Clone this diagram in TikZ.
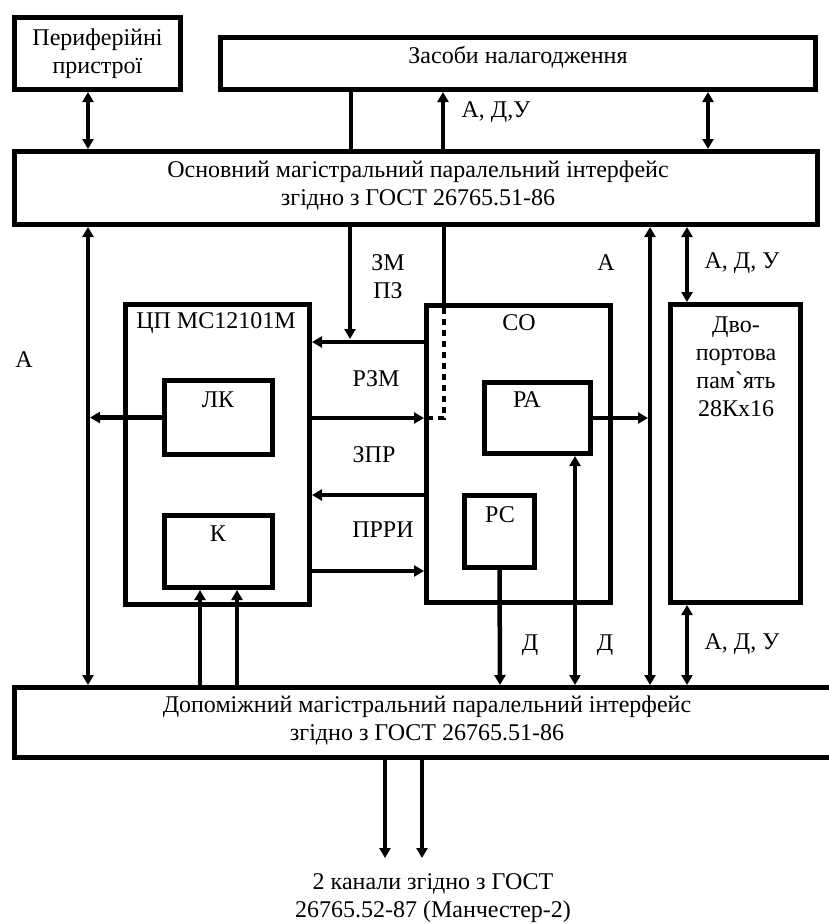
\documentclass[tikz,border=0pt]{standalone}
\usepackage{fontspec}
\setmainfont{Liberation Serif}
\newfontfamily\rawserif{Liberation Serif}[Ligatures=TeXOff]
\usetikzlibrary{arrows.meta}
\tikzset{
  box/.style={draw, line width=5pt, inner sep=0pt, outer sep=2.5pt},
  lbl/.style={inner sep=0pt, align=center, font=\fontsize{24}{28}\selectfont},
  conn/.style={line width=4.5pt},
  arr/.style={conn, -{Triangle[length=10pt,width=11pt]}},
  darr/.style={conn, {Triangle[length=10pt,width=11pt]}-{Triangle[length=10pt,width=11pt]}},
  dotline/.style={line width=4.5pt, dash pattern=on 6pt off 5pt},
}
\begin{document}
\begin{tikzpicture}[x=1pt,y=-1pt]
\useasboundingbox (0,0) rectangle (829,924);
% boxes
\node[box, minimum width=166pt, minimum height=72pt] (periph) at (97.5,53.5) {};
\node[box, minimum width=595pt, minimum height=52pt] (zasoby) at (518,63.5) {};
\node[box, minimum width=803pt, minimum height=73pt] (mainbus) at (416,188) {};
\node[box, minimum width=184pt, minimum height=300pt] (cpu) at (217.5,454.5) {};
\node[box, minimum width=108pt, minimum height=74pt] (lk) at (218.5,417.5) {};
\node[box, minimum width=108pt, minimum height=72pt] (k) at (218.5,551.5) {};
\node[box, minimum width=184pt, minimum height=297pt] (co) at (518.5,454) {};
\node[box, minimum width=106pt, minimum height=71pt] (ra) at (537.5,418) {};
\node[box, minimum width=70pt, minimum height=72pt] (rs) at (499.5,531.5) {};
\node[box, minimum width=130pt, minimum height=298pt] (mem) at (735.5,453.5) {};
\node[box, minimum width=821pt, minimum height=70pt] (auxbus) at (424.5,722.5) {};
% texts
\node[lbl] (tperiph) at (97.5,54) {Периферійні\\пристрої};
\node[lbl] (tzasoby) at (518,57) {Засоби налагодження};
\node[lbl] (tmain) at (418,185) {Основний магістральний паралельний інтерфейс\\згідно з ГОСТ 26765.51-86};
\node[lbl] (tcpu) at (216,323) {ЦП МС12101М};
\node[lbl] (tlk) at (218,400) {ЛК};
\node[lbl] (tk) at (218,534) {К};
\node[lbl] (tco) at (519,323) {СО};
\node[lbl] (tra) at (527,400) {РА};
\node[lbl] (trs) at (500,515) {РС};
\node[lbl] (tmem) at (736,367) {Дво-\\портова\\пам{\rawserif`}ять\\28Кх16};
\node[lbl] (taux) at (427,720) {Допоміжний магістральний паралельний інтерфейс\\згідно з ГОСТ 26765.51-86};
\node[lbl] (tout) at (433,898) {2 канали згідно з ГОСТ\\26765.52-87 (Манчестер-2)};
\node[lbl] (tadu1) at (496,112) {А, Д,У};
\node[lbl] (tzmpz) at (388,277) {ЗМ\\ПЗ};
\node[lbl] (ta1) at (606,263) {А};
\node[lbl] (tadu2) at (742,263) {А, Д, У};
\node[lbl] (ta2) at (24,360) {А};
\node[lbl] (trzm) at (376,379) {РЗМ};
\node[lbl] (tzpr) at (374,455) {ЗПР};
\node[lbl] (tprri) at (383,530) {ПРРИ};
\node[lbl] (td1) at (530,645) {Д};
\node[lbl] (td2) at (605,645) {Д};
\node[lbl] (tadu3) at (742,644) {А, Д, У};
% column / row coordinates
\coordinate (cA) at (88,0);
\coordinate (cZ1) at (351,0);
\coordinate (cZ2) at (443,0);
\coordinate (cZ3) at (708,0);
\coordinate (cZM) at (350,0);
\coordinate (cCO) at (444,0);
\coordinate (cAb) at (650,0);
\coordinate (cMem) at (687,0);
\coordinate (cRS) at (500,0);
\coordinate (cRA) at (575,0);
\coordinate (cK1) at (200,0);
\coordinate (cK2) at (237,0);
\coordinate (cM1) at (385,0);
\coordinate (cM2) at (422,0);
\coordinate (r1) at (0,342);
\coordinate (r2) at (0,418);
\coordinate (r3) at (0,495);
\coordinate (r4) at (0,571);
\coordinate (zmend) at (350,339);
\coordinate (dotTop) at (444,308);
\coordinate (dotA) at (444,418);
\coordinate (dotB) at (428,418);
\coordinate (out1) at (385,858);
\coordinate (out2) at (422,858);
% top connectors
\draw[darr] (cA |- periph.south) -- (cA |- mainbus.north);
\draw[conn] (cZ1 |- zasoby.south) -- (cZ1 |- mainbus.north);
\draw[arr] (cZ2 |- mainbus.north) -- (cZ2 |- zasoby.south);
\draw[darr] (cZ3 |- zasoby.south) -- (cZ3 |- mainbus.north);
% main bus to aux bus
\draw[darr] (cA |- mainbus.south) -- (cA |- auxbus.north);
\draw[darr] (cAb |- mainbus.south) -- (cAb |- auxbus.north);
% main bus down to CPU line
\draw[arr] (cZM |- mainbus.south) -- (zmend);
\draw[arr] (co.west |- r1) -- (cpu.east |- r1);
% main bus to CO, dotted inside
\draw[conn] (cCO |- mainbus.south) -- (cCO |- co.north);
\draw[dotline] (dotTop) -- (dotA) -- (dotB);
% CPU <-> CO
\draw[arr] (cpu.east |- r2) -- (co.west |- r2);
\draw[arr] (co.west |- r3) -- (cpu.east |- r3);
\draw[arr] (cpu.east |- r4) -- (co.west |- r4);
% LK to left bus
\draw[arr, shorten >=2pt] (lk.west) -- (cA |- lk.west);
% RA to A line
\draw[arr, shorten >=2pt] (ra.east) -- (cAb |- ra.east);
% memory
\draw[darr] (cMem |- mainbus.south) -- (cMem |- mem.north);
\draw[darr] (cMem |- mem.south) -- (cMem |- auxbus.north);
% CO registers to aux bus
\draw[arr] (rs.south) -- (cRS |- auxbus.north);
\draw[darr] (cRA |- ra.south) -- (cRA |- auxbus.north);
% aux bus to K
\draw[arr] (cK1 |- auxbus.north) -- (cK1 |- k.south);
\draw[arr] (cK2 |- auxbus.north) -- (cK2 |- k.south);
% outputs
\draw[arr] (cM1 |- auxbus.south) -- (out1);
\draw[arr] (cM2 |- auxbus.south) -- (out2);
\end{tikzpicture}
\end{document}
